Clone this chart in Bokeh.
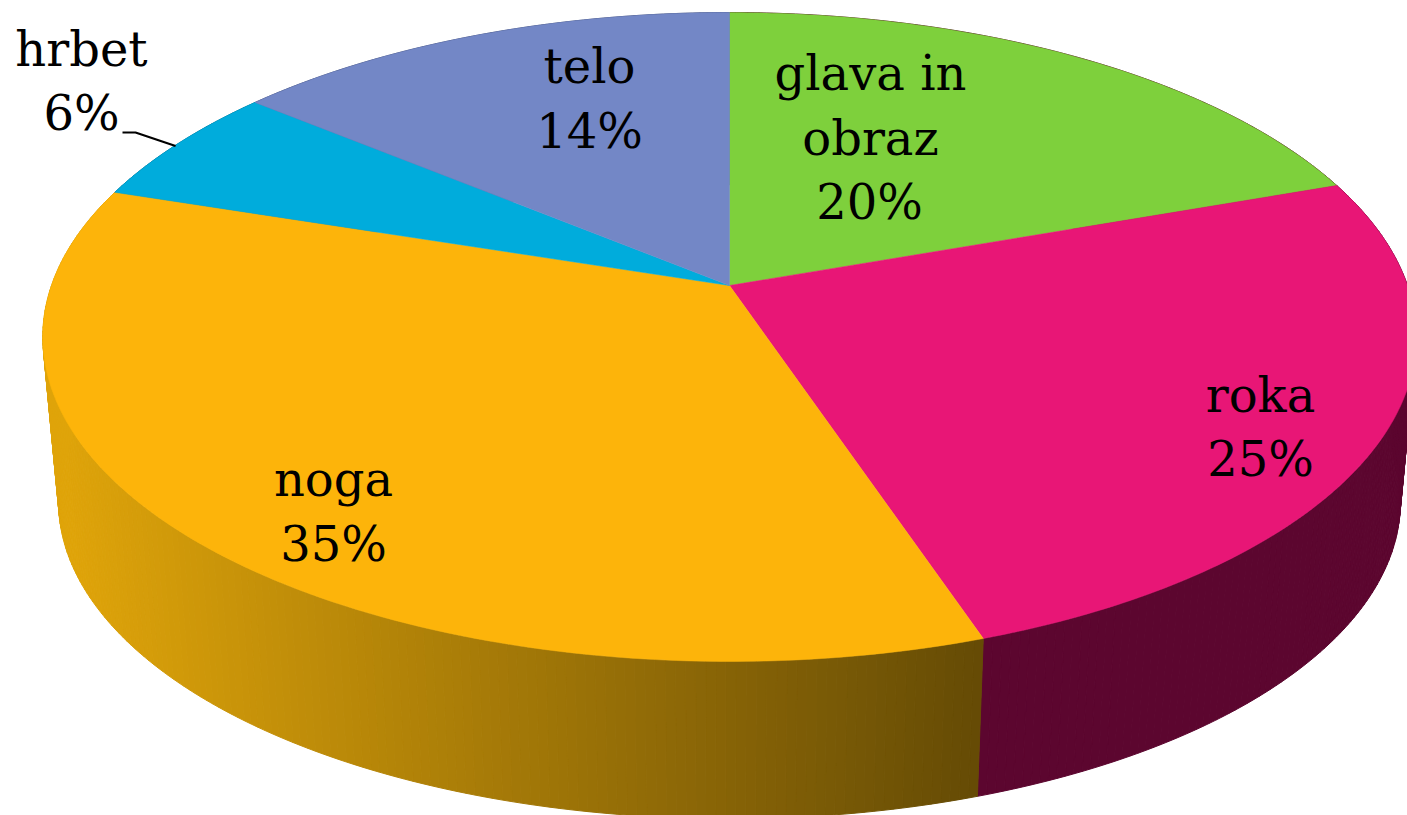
import numpy as np
from bokeh.plotting import figure
from bokeh.models import Range1d
from bokeh.core.properties import value
from bokeh.embed import file_html
from bokeh.resources import INLINE

# data (clockwise from 12 o'clock); shares read from the slice boundaries
categories = ["glava in obraz", "roka", "noga", "hrbet", "telo"]
shares = [19.6, 25.25, 35.15, 6.0, 14.0]
percent_labels = ["20%", "25%", "35%", "6%", "14%"]
top_colors = ["#7ed03c", "#e81676", "#fdb40a", "#00acdc", "#7387c6"]
wall_left = ["#5c062f", "#5c062f", "#dfa40a", "#00708f", "#4b5881"]
wall_right = ["#5c062f", "#5c062f", "#654b05", "#00708f", "#4b5881"]

# perspective model of the disc, in page pixels
CX, CY, A, B, K = 729.0, 285.0, 678.0, 316.3, 0.1587
SCALE, VY = 0.977, 7500.0


def top(theta):
    X, Y = np.sin(theta), np.cos(theta)
    d = 1 + K * Y
    return CX + A * X / d, CY - B * Y / d


def bottom(theta):
    x, y = top(theta)
    return CX + (x - CX) * SCALE, VY + (y - VY) * SCALE


def mix(c1, c2, t):
    t = min(max(t, 0.0), 1.0)
    a = [int(c1[i:i + 2], 16) for i in (1, 3, 5)]
    b = [int(c2[i:i + 2], 16) for i in (1, 3, 5)]
    return "#%02x%02x%02x" % tuple(round(p + (q - p) * t) for p, q in zip(a, b))


edges = np.radians(np.concatenate([[0], np.cumsum(shares)]) * 3.6)

p = figure(width=1407, height=815, output_backend="svg", toolbar_location=None,
           x_range=Range1d(0, 1407), y_range=Range1d(815, 0),
           min_border=0, outline_line_color=None, background_fill_color="white",
           border_fill_color="white")
p.axis.visible = False
p.grid.visible = False

# side wall strips
xs, ys, cs = [], [], []
for i in range(len(shares)):
    grid = np.linspace(edges[i], edges[i + 1], max(int(shares[i] * 5), 2) + 1)
    hi = max(top(edges[i + 1])[0], top(edges[i])[0])
    for t1, t2 in zip(grid[:-1], grid[1:]):
        x1, y1 = top(t1)
        x2, y2 = top(t2)
        x3, y3 = bottom(t2)
        x4, y4 = bottom(t1)
        xs.append([x1, x2, x3, x4])
        ys.append([y1, y2, y3, y4])
        frac = ((x1 + x2) / 2 - 60) / (hi - 60)
        cs.append(mix(wall_left[i], wall_right[i], frac))
p.patches(xs, ys, fill_color=cs, line_color=cs, line_width=1)

# top face slices
for i in range(len(shares)):
    t = np.linspace(edges[i], edges[i + 1], 120)
    x, y = top(t)
    p.patch(np.r_[CX, x], np.r_[CY, y], fill_color=top_colors[i],
            line_color=top_colors[i], line_width=0.5)

# leader line of the small slice, ending on the rim at the slice's middle
mid = (edges[3] + edges[4]) / 2
rx, ry = top(mid)
p.line([122, 135, float(rx) - 2], [132, 132, float(ry) + 2], line_color="black", line_width=2.2)

# labels
label_lines = [categories[0].replace(" obraz", ""), "obraz", percent_labels[0],
               categories[1], percent_labels[1],
               categories[2], percent_labels[2],
               categories[3], percent_labels[3],
               categories[4], percent_labels[4]]
label_x = [870, 870, 869, 1260, 1260, 333, 333, 81, 81, 589, 589]
label_y = [72, 137, 201, 394, 458, 478, 543, 48, 112, 65, 130]
p.text(label_x, label_y, text=label_lines, text_font=value("DejaVu Serif"),
       text_font_size="48px", text_align="center", text_baseline="alphabetic",
       text_color="black")

open("out.html", "w").write(file_html(p, INLINE))
